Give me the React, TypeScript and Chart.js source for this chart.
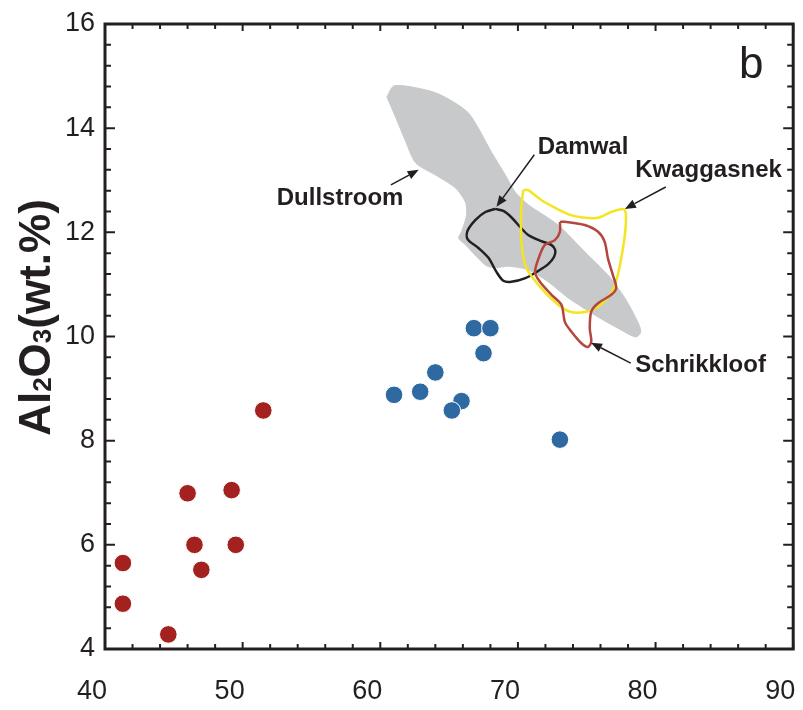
import React, { useEffect, useRef } from "react";
import { Chart, registerables } from "chart.js";

Chart.register(...registerables);

// ---------- data ----------
const xMin = 40;
const xMax = 90;
const xMajorStep = 10;
const xMinorStep = 2;
const yMin = 4;
const yMax = 16;
const yMajorStep = 2;
const yMinorStep = 0.4;

// red dots
const redSiO2 = [41.3, 41.3, 44.6, 46.0, 49.2, 46.5, 49.5, 47.0, 51.5];
const redAl2O3 = [5.65, 4.87, 4.28, 6.99, 7.05, 6.0, 6.0, 5.52, 8.58];
// blue dots
const blueSiO2 = [61.0, 62.9, 64.0, 66.8, 68.0, 67.5, 65.9, 65.2, 73.05];
const blueAl2O3 = [8.88, 8.94, 9.31, 10.16, 10.16, 9.68, 8.76, 8.58, 8.02];

// Dullstroom field (grey)
const dullX = [60.48, 60.98, 62.29, 64.02, 65.47, 66.41, 67.13, 68.08, 69.09, 69.81, 70.75, 72.92, 74.88, 76.54, 77.77, 78.71, 78.93, 78.57, 77.26, 75.6, 73.65, 72.2, 70.75, 69.31, 68.36, 67.64, 66.19, 65.69, 65.9, 66.27, 66.19, 65.47, 64.02, 62.58, 61.85, 61.13, 60.48];
const dullY = [14.6, 14.81, 14.79, 14.68, 14.48, 14.29, 14.0, 13.54, 13.1, 12.77, 12.53, 12.14, 11.62, 11.18, 10.74, 10.28, 10.09, 9.99, 10.16, 10.41, 10.74, 11.05, 11.28, 11.35, 11.32, 11.37, 11.76, 11.89, 12.01, 12.33, 12.58, 12.85, 13.1, 13.33, 13.74, 14.2, 14.6];

// Damwal field (black)
const damX = [68.36, 68.94, 69.52, 70.17, 70.75, 71.69, 72.42, 72.71, 72.63, 72.2, 71.48, 70.54, 69.52, 68.94, 68.44, 67.86, 67.13, 66.34, 66.34, 66.92, 67.64, 68.36];
const damY = [12.45, 12.41, 12.29, 12.1, 11.95, 11.83, 11.76, 11.66, 11.53, 11.39, 11.26, 11.12, 11.05, 11.07, 11.24, 11.51, 11.7, 11.87, 12.03, 12.24, 12.39, 12.45];

// Kwaggasnek field (yellow)
const kwaX = [70.39, 70.75, 71.69, 72.71, 73.86, 74.88, 75.82, 76.76, 77.63, 77.84, 77.77, 77.41, 77.05, 76.69, 75.82, 74.88, 73.86, 72.92, 71.69, 70.61, 70.25, 70.25, 70.39];
const kwaY = [12.81, 12.81, 12.62, 12.47, 12.33, 12.28, 12.28, 12.39, 12.45, 12.37, 11.95, 11.37, 10.99, 10.8, 10.57, 10.47, 10.47, 10.61, 10.93, 11.32, 11.81, 12.47, 12.81];

// Schrikkloof field (red-brown)
const schX = [73.05, 73.52, 74.86, 75.82, 76.3, 76.54, 76.9, 77.14, 76.78, 75.82, 75.33, 75.22, 75.33, 75.09, 74.61, 73.89, 73.41, 73.16, 72.44, 71.6, 71.24, 71.6, 71.96, 72.68, 73.05, 73.05];
const schY = [12.2, 12.2, 12.14, 12.01, 11.82, 11.5, 11.18, 10.93, 10.8, 10.64, 10.48, 10.16, 9.9, 9.8, 9.87, 10.09, 10.28, 10.61, 10.8, 11.05, 11.24, 11.57, 11.76, 11.85, 12.01, 12.2];

// annotation labels: text, x, y (baseline, data units)
const labelTexts = ["Dullstroom", "Damwal", "Kwaggasnek", "Schrikkloof"];
const labelX = [57.08, 74.73, 83.85, 83.27];
const labelY = [12.53, 13.5, 13.06, 9.32];
// arrows: tail -> head (data units)
const arrowTailX = [60.77, 71.19, 80.74, 78.2];
const arrowTailY = [12.91, 13.49, 12.87, 9.49];
const arrowHeadX = [62.79, 68.44, 77.77, 75.31];
const arrowHeadY = [13.2, 12.49, 12.45, 9.88];

const panelLetter = "b";
const panelX = 86.96;
const panelY = 14.96;

const yTitleParts = ["Al", "2", "O", "3", "(wt.%)"];
const yTitleSub = [false, true, false, true, false];

// ---------- style ----------
const FONT = "'Liberation Sans', Arial, Helvetica, sans-serif";
const INK = "#231f20";

const pts = (xs: number[], ys: number[]) => xs.map((x, i) => ({ x, y: ys[i] }));

const decorPlugin = {
  id: "decor",
  afterDatasetsDraw(chart: any) {
    const { ctx, chartArea: a, scales } = chart;
    const sx = scales.x;
    const sy = scales.y;
    ctx.save();
    ctx.strokeStyle = INK;
    ctx.fillStyle = INK;

    // minor / major ticks, all four sides, inward
    ctx.lineWidth = 2;
    ctx.beginPath();
    const nx = Math.round((xMax - xMin) / xMinorStep);
    for (let i = 0; i <= nx; i++) {
      const v = xMin + i * xMinorStep;
      const px = sx.getPixelForValue(v);
      const major = Math.abs(v / xMajorStep - Math.round(v / xMajorStep)) < 1e-6;
      const L = major ? 7 : 5;
      ctx.moveTo(px, a.bottom);
      ctx.lineTo(px, a.bottom - L);
      ctx.moveTo(px, a.top);
      ctx.lineTo(px, a.top + L);
    }
    const ny = Math.round((yMax - yMin) / yMinorStep);
    for (let i = 0; i <= ny; i++) {
      const v = yMin + i * yMinorStep;
      const py = sy.getPixelForValue(v);
      const major = i % Math.round(yMajorStep / yMinorStep) === 0;
      const L = major ? 10 : 6;
      ctx.moveTo(a.left, py);
      ctx.lineTo(a.left + L, py);
      ctx.moveTo(a.right, py);
      ctx.lineTo(a.right - L, py);
    }
    ctx.stroke();

    // frame
    ctx.lineWidth = 3;
    ctx.strokeRect(a.left, a.top, a.right - a.left, a.bottom - a.top);

    // arrows
    ctx.lineWidth = 1.5;
    for (let i = 0; i < arrowTailX.length; i++) {
      const x0 = sx.getPixelForValue(arrowTailX[i]);
      const y0 = sy.getPixelForValue(arrowTailY[i]);
      const x1 = sx.getPixelForValue(arrowHeadX[i]);
      const y1 = sy.getPixelForValue(arrowHeadY[i]);
      const ang = Math.atan2(y1 - y0, x1 - x0);
      const hl = 11;
      const hw = 4.5;
      const bx = x1 - hl * Math.cos(ang);
      const by = y1 - hl * Math.sin(ang);
      ctx.beginPath();
      ctx.moveTo(x0, y0);
      ctx.lineTo(bx, by);
      ctx.stroke();
      ctx.beginPath();
      ctx.moveTo(x1, y1);
      ctx.lineTo(bx + hw * Math.sin(ang), by - hw * Math.cos(ang));
      ctx.lineTo(bx - hw * Math.sin(ang), by + hw * Math.cos(ang));
      ctx.closePath();
      ctx.fill();
    }

    // labels
    ctx.font = `bold 24px ${FONT}`;
    ctx.textAlign = "center";
    ctx.textBaseline = "alphabetic";
    for (let i = 0; i < labelTexts.length; i++) {
      ctx.fillText(labelTexts[i], sx.getPixelForValue(labelX[i]), sy.getPixelForValue(labelY[i]));
    }

    // panel letter
    ctx.font = `44px ${FONT}`;
    ctx.fillText(panelLetter, sx.getPixelForValue(panelX), sy.getPixelForValue(panelY));

    // y-axis title with subscripts
    const fs = 44;
    const subFs = 26;
    const cx = 34;
    const cy = (a.top + a.bottom) / 2 - 19;
    ctx.translate(cx, cy);
    ctx.rotate(-Math.PI / 2);
    let total = 0;
    const widths: number[] = [];
    for (let i = 0; i < yTitleParts.length; i++) {
      ctx.font = `bold ${yTitleSub[i] ? subFs : fs}px ${FONT}`;
      const w = ctx.measureText(yTitleParts[i]).width;
      widths.push(w);
      total += w;
    }
    let xx = -total / 2;
    ctx.textAlign = "left";
    const base = fs * 0.716 / 2;
    for (let i = 0; i < yTitleParts.length; i++) {
      ctx.font = `bold ${yTitleSub[i] ? subFs : fs}px ${FONT}`;
      ctx.fillText(yTitleParts[i], xx, base + (yTitleSub[i] ? 1 : 0));
      xx += widths[i];
    }
    ctx.restore();
  },
};

export default function App() {
  const ref = useRef<HTMLCanvasElement | null>(null);

  useEffect(() => {
    if (!ref.current) return;
    const outline = (data: any, color: string, order: number) => ({
      data,
      showLine: true,
      fill: false,
      borderColor: color,
      borderWidth: 2.5,
      pointRadius: 0,
      tension: 0.3,
      order,
    });
    const chart = new Chart(ref.current, {
      type: "scatter",
      data: {
        datasets: [
          {
            data: pts(blueSiO2, blueAl2O3),
            backgroundColor: "#2e69a2",
            borderColor: "#ffffff",
            borderWidth: 1,
            pointRadius: 8.8,
            order: 0,
          },
          {
            data: pts(redSiO2, redAl2O3),
            backgroundColor: "#a3211f",
            borderColor: "#ffffff",
            borderWidth: 1,
            pointRadius: 8.8,
            order: 0,
          },
          outline(pts(schX, schY), "#b4473d", 1),
          outline(pts(kwaX, kwaY), "#f3e520", 2),
          outline(pts(damX, damY), INK, 3),
          {
            data: pts(dullX, dullY),
            showLine: true,
            fill: "shape",
            backgroundColor: "#c8c9cb",
            borderColor: "#c8c9cb",
            borderWidth: 1,
            pointRadius: 0,
            tension: 0.25,
            order: 4,
          },
        ],
      },
      options: {
        animation: false,
        responsive: false,
        events: [],
        layout: { padding: { top: 24, right: 7, left: 0, bottom: 0 } },
        plugins: { legend: { display: false }, tooltip: { enabled: false } },
        scales: {
          x: {
            type: "linear",
            min: xMin,
            max: xMax,
            grid: { display: false, drawTicks: false },
            border: { display: false },
            ticks: {
              stepSize: xMajorStep,
              color: INK,
              font: { family: FONT, size: 27 },
              padding: 26,
              labelOffset: -13,
            },
            afterFit: (s: any) => {
              s.height = 61;
              s.paddingLeft = 0;
              s.paddingRight = 0;
            },
          },
          y: {
            type: "linear",
            min: yMin,
            max: yMax,
            grid: { display: false, drawTicks: false },
            border: { display: false },
            ticks: {
              stepSize: yMajorStep,
              color: INK,
              font: { family: FONT, size: 27 },
              padding: 10,
            },
            afterFit: (s: any) => {
              s.width = 105;
              s.paddingTop = 0;
              s.paddingBottom = 0;
            },
          },
        },
      },
      plugins: [decorPlugin],
    } as any);
    return () => chart.destroy();
  }, []);

  return (
    <div style={{ position: "absolute", left: 0, top: 0, width: 803, height: 710, background: "#fff" }}>
      <canvas ref={ref} width={803} height={710} style={{ display: "block" }} />
    </div>
  );
}
